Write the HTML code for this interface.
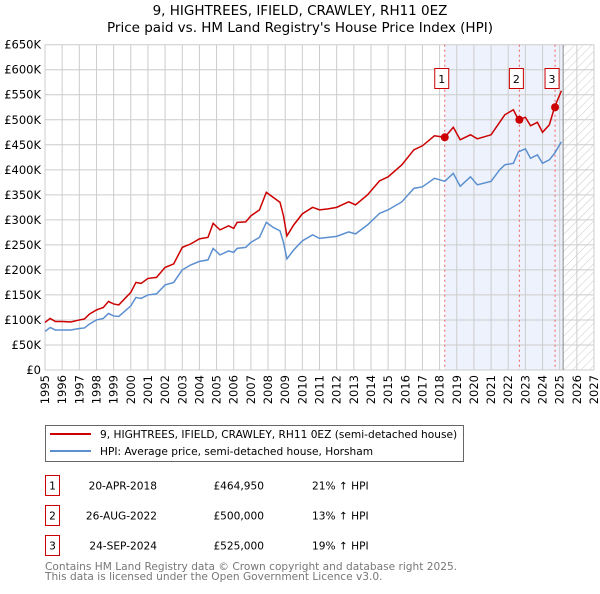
<!DOCTYPE html>
<html><head><meta charset="utf-8"><style>
body{margin:0;background:#fff;font-family:"DejaVu Sans","Liberation Sans",sans-serif;}
svg text{font-family:"DejaVu Sans","Liberation Sans",sans-serif;}
</style></head><body>
<svg id="c" width="600" height="590" xmlns="http://www.w3.org/2000/svg">
<defs><pattern id="hatch" width="6" height="6" patternUnits="userSpaceOnUse" patternTransform="rotate(45)"><line x1="0" y1="0" x2="0" y2="6" stroke="#bbb" stroke-width="0.8"/></pattern></defs>
<text x="300" y="15" text-anchor="middle" font-size="13.5">9, HIGHTREES, IFIELD, CRAWLEY, RH11 0EZ</text>
<text x="300" y="32" text-anchor="middle" font-size="13.5">Price paid vs. HM Land Registry's House Price Index (HPI)</text>
<g id="plot"></g>
<g>
<rect x="45.5" y="425.5" width="418" height="36" fill="#fff" stroke="#666"/>
<line x1="50" y1="434" x2="91" y2="434" stroke="#cc0000" stroke-width="2"/>
<text x="100" y="438" font-size="10.6">9, HIGHTREES, IFIELD, CRAWLEY, RH11 0EZ (semi-detached house)</text>
<line x1="50" y1="451" x2="91" y2="451" stroke="#5b8fd0" stroke-width="2"/>
<text x="100" y="455" font-size="10.6">HPI: Average price, semi-detached house, Horsham</text>
</g>
<g id="table" font-size="10.6"></g>
<text x="45" y="570" font-size="10.6" fill="#777">Contains HM Land Registry data © Crown copyright and database right 2025.</text>
<text x="45" y="580" font-size="10.6" fill="#777">This data is licensed under the Open Government Licence v3.0.</text>
</svg>
<script>
const dates=[1995,1995.3,1995.6,1996,1996.5,1997,1997.3,1997.6,1998,1998.4,1998.7,1999,1999.3,1999.8,2000,2000.3,2000.6,2001,2001.5,2002,2002.5,2003,2003.5,2004,2004.5,2004.8,2005.2,2005.7,2006,2006.2,2006.7,2007,2007.5,2007.9,2008.3,2008.7,2008.9,2009.1,2009.5,2010,2010.6,2011,2011.5,2012,2012.7,2013.1,2013.8,2014.5,2015,2015.8,2016.5,2017,2017.7,2018.3,2018.8,2019.2,2019.8,2020.2,2021,2021.5,2021.8,2022.3,2022.6,2023,2023.3,2023.7,2024,2024.4,2024.7,2025.1];
const hpi=[77,85,80,80,80,83,84,92,100,103,113,108,107,122,128,145,143,150,152,170,175,200,210,217,220,243,230,238,235,243,245,255,265,295,285,278,255,222,240,258,270,263,265,267,276,272,290,313,320,336,363,366,383,377,393,367,386,370,377,400,410,413,436,442,423,430,413,420,433,456];
const price=[95,103,97,97,96,100,102,112,120,125,137,132,130,148,155,175,173,183,185,205,212,245,252,262,265,293,280,288,283,295,296,308,320,355,345,335,308,268,290,312,325,320,322,325,336,330,350,378,386,410,440,448,468,465,485,460,470,462,470,495,510,520,500,505,488,495,475,490,525,558];
const yTicks=[0,50,100,150,200,250,300,350,400,450,500,550,600,650];
const years=[1995,1996,1997,1998,1999,2000,2001,2002,2003,2004,2005,2006,2007,2008,2009,2010,2011,2012,2013,2014,2015,2016,2017,2018,2019,2020,2021,2022,2023,2024,2025,2026,2027];
const saleDates=[2018.3,2022.65,2024.73];
const saleValues=[464.95,500,525];
const saleLabels=["1","2","3"];
const saleDateText=["20-APR-2018","26-AUG-2022","24-SEP-2024"];
const salePriceText=["£464,950","£500,000","£525,000"];
const saleHpiText=["21% ↑ HPI","13% ↑ HPI","19% ↑ HPI"];
const X0=45,X1=594,Y0=370,Y1=44.7;
const xs=d=>X0+(d-1995)*(X1-X0)/32;
const ys=v=>Y0-v*(Y0-Y1)/650;
const NS="http://www.w3.org/2000/svg";
const plot=document.getElementById('plot');
function mk(tag,attrs,parent){const e=document.createElementNS(NS,tag);for(const k in attrs)e.setAttribute(k,attrs[k]);(parent||plot).appendChild(e);return e;}
let e;
e=mk('rect',{x:xs(2018.3),y:Y1,width:xs(2025.2)-xs(2018.3),height:Y0-Y1,fill:'#eef2fc'});


e=mk('rect',{x:xs(2025.2),y:Y1,width:X1-xs(2025.2),height:Y0-Y1,fill:'url(#hatch)'});


yTicks.forEach(v=>{mk('line',{x1:X0,x2:X1,y1:ys(v),y2:ys(v),stroke:'#ccc','stroke-width':1});
e=mk('text',{x:X0-4,y:ys(v)+4,'text-anchor':'end','font-size':11.5});e.textContent=v===0?'£0':'£'+v+'K';

});
years.forEach(y=>{mk('line',{x1:xs(y),x2:xs(y),y1:Y1,y2:Y0,stroke:'#ccc','stroke-width':1});
e=mk('text',{x:0,y:0,'text-anchor':'end','font-size':11.5,transform:`translate(${xs(y)+4},${Y0+5}) rotate(-90)`});e.textContent=y;

});
mk('line',{x1:xs(2025.2),x2:xs(2025.2),y1:Y1,y2:Y0,stroke:'#888','stroke-width':1});
saleDates.forEach((d,i)=>{mk('line',{x1:xs(d),x2:xs(d),y1:Y1,y2:Y0,stroke:'#f06060','stroke-width':1,'stroke-dasharray':'2,3'});});
function line(vals,col,name){e=mk('polyline',{points:dates.map((d,i)=>xs(d)+','+ys(vals[i])).join(' '),fill:'none',stroke:col,'stroke-width':1.5});

}
line(hpi,'#5b8fd0','hpi-line');
line(price,'#cc0000','price-line');
saleDates.forEach((d,i)=>{
e=mk('circle',{cx:xs(d),cy:ys(saleValues[i]),r:4,fill:'#cc0000'});


mk('rect',{x:xs(d)-10,y:68.5,width:14,height:20,fill:'#fff',stroke:'#cc0000'});
e=mk('text',{x:xs(d)-3,y:83,'text-anchor':'middle','font-size':11});e.textContent=saleLabels[i];

});
const tb=document.getElementById('table');
saleLabels.forEach((l,i)=>{const y=475.5+i*30;
mk('rect',{x:45.5,y:y,width:14,height:20,fill:'#fff',stroke:'#cc0000'},tb);
e=mk('text',{x:52.5,y:y+14,'text-anchor':'middle'},tb);e.textContent=l;


e=mk('text',{x:157,y:y+14,'text-anchor':'end'},tb);e.textContent=saleDateText[i];


e=mk('text',{x:264,y:y+14,'text-anchor':'end'},tb);e.textContent=salePriceText[i];


e=mk('text',{x:312,y:y+14},tb);e.textContent=saleHpiText[i];

});
</script>
</body></html>
